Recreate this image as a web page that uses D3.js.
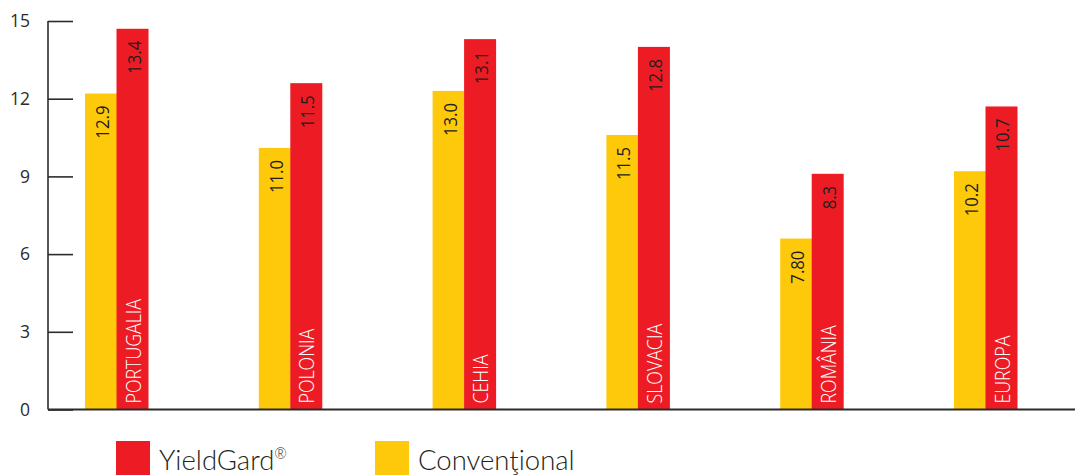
<!DOCTYPE html>
<html>
<head>
<meta charset="utf-8">
<script src="https://cdn.jsdelivr.net/npm/d3@7"></script>
<style>
  html, body { margin: 0; padding: 0; background: #fff; }
  svg { display: block; }
</style>
</head>
<body>
<svg id="chart" width="1075" height="476"></svg>
<script>
(function () {
  // categories and series
  const categories = ["PORTUGALIA", "POLONIA", "CEHIA", "SLOVACIA", "ROMÂNIA", "EUROPA"];
  const series = ["Conventional", "YieldGard"];
  // bar heights as drawn in the picture
  const conventionalBars = [12.2, 10.1, 12.3, 10.6, 6.6, 9.2];
  const yieldgardBars = [14.7, 12.6, 14.3, 14.0, 9.1, 11.7];
  // printed value labels
  const conventionalLabels = ["12.9", "11.0", "13.0", "11.5", "7.80", "10.2"];
  const yieldgardLabels = ["13.4", "11.5", "13.1", "12.8", "8.3", "10.7"];
  const yTicks = [0, 3, 6, 9, 12, 15];
  const legendItems = [
    { key: "YieldGard", text: "YieldGard", sup: "®" },
    { key: "Conventional", text: "Convenţional", sup: "" }
  ];

  const RED = "#ED1C24";
  const YELLOW = "#FFC90B";
  const AXIS = "#2b2b2b";
  const FONT = "'Open Sans', 'Noto Sans', sans-serif";

  const svg = d3.select("#chart");

  const x0 = 48;
  const y = d3.scaleLinear().domain([0, 15]).range([409.5, 21]);
  const x = d3.scaleBand().domain(categories).range([85, 1017]).paddingInner(0.6375).paddingOuter(0);
  const xs = d3.scaleBand().domain(series).range([0, x.bandwidth()]).padding(0);
  const color = d3.scaleOrdinal().domain(series).range([YELLOW, RED]);

  // y axis
  const yAxis = svg.append("g")
    .attr("transform", `translate(${x0},0)`)
    .call(d3.axisRight(y).tickValues(yTicks).tickSize(25).tickFormat(d3.format("d")));
  yAxis.select(".domain").remove();
  yAxis.selectAll(".tick line").attr("stroke", AXIS).attr("stroke-width", 1.6);
  yAxis.selectAll(".tick text")
    .attr("x", -18)
    .attr("text-anchor", "end")
    .attr("fill", AXIS)
    .style("font-family", FONT)
    .style("font-size", "17.5px");

  svg.append("line")
    .attr("x1", x0).attr("x2", x0)
    .attr("y1", y(15)).attr("y2", y(0))
    .attr("stroke", AXIS).attr("stroke-width", 1.6);

  // bars
  const rows = categories.map((c, i) => ({
    cat: c,
    items: [
      { s: "Conventional", v: conventionalBars[i], label: conventionalLabels[i] },
      { s: "YieldGard", v: yieldgardBars[i], label: yieldgardLabels[i] }
    ]
  }));

  const grp = svg.selectAll("g.grp")
    .data(rows)
    .join("g")
    .attr("class", "grp")
    .attr("transform", d => `translate(${x(d.cat)},0)`);

  grp.selectAll("rect")
    .data(d => d.items)
    .join("rect")
    .attr("x", d => xs(d.s))
    .attr("width", xs.bandwidth() + 0.5)
    .attr("y", d => y(d.v))
    .attr("height", d => y(0) - y(d.v))
    .attr("fill", d => color(d.s));

  // value labels (rotated, near the top), slightly condensed
  grp.selectAll("text.val")
    .data(d => d.items)
    .join("text")
    .attr("class", "val")
    .attr("transform", d => `translate(${xs(d.s) + xs.bandwidth() / 2 + 1},${y(d.v) + 12}) rotate(-90) scale(0.93,1)`)
    .attr("text-anchor", "end")
    .attr("dominant-baseline", "central")
    .attr("fill", "#231f20")
    .style("font-family", FONT)
    .style("font-size", "18px")
    .text(d => d.label);

  // category labels inside red bars
  grp.append("text")
    .attr("class", "cat")
    .attr("transform", `translate(${xs("YieldGard") + xs.bandwidth() / 2 + 1},${y(0) - 6}) rotate(-90) scale(0.89,1)`)
    .attr("text-anchor", "start")
    .attr("dominant-baseline", "central")
    .attr("fill", "#fff")
    .style("font-family", FONT)
    .style("font-weight", 300)
    .style("font-size", "20px")
    .text(d => d.cat);

  // x axis line
  svg.append("line")
    .attr("x1", x0).attr("x2", 1075)
    .attr("y1", y(0)).attr("y2", y(0))
    .attr("stroke", AXIS).attr("stroke-width", 1.8);

  // legend
  const legend = svg.append("g").attr("class", "legend");
  const li = legend.selectAll("g.item")
    .data(legendItems)
    .join("g")
    .attr("class", "item")
    .attr("transform", (d, i) => `translate(${116 + i * 259},441)`);

  li.append("rect")
    .attr("width", 34).attr("height", 34)
    .attr("fill", d => color(d.key));

  const lt = li.append("text")
    .attr("x", 43).attr("y", 29)
    .attr("fill", "#231f20")
    .style("font-family", "Lato, 'Open Sans', sans-serif")
    .style("font-weight", 300)
    .style("font-size", "27.5px");
  lt.append("tspan").text(d => d.text);
  lt.append("tspan")
    .attr("dy", -11)
    .style("font-size", "15px")
    .text(d => d.sup);
})();
</script>
</body>
</html>
